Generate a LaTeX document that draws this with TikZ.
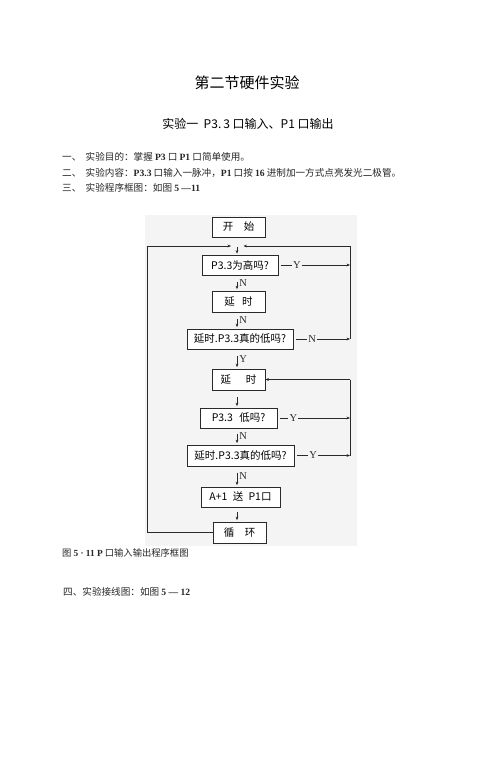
\documentclass[tikz,border=0pt]{standalone}
\usepackage{fontspec}
\setmainfont{Liberation Serif}
\newfontfamily\cjkf{Noto Sans CJK SC}
\newfontfamily\lser{Liberation Serif}
\usetikzlibrary{arrows.meta}
\definecolor{bgc}{HTML}{F4F4F4}
\definecolor{lnc}{HTML}{2A2A2A}
\newcommand{\lb}[1]{{\lser\bfseries #1}}
\tikzset{
  box/.style={draw=lnc, line width=0.7pt, fill=white, minimum height=20pt, inner sep=0pt, font=\cjkf\fontsize{10.5}{12}\selectfont},
  arr/.style={draw=lnc, -{Stealth[length=3.5pt,width=2.8pt]}, line width=0.55pt},
  ln/.style={draw=lnc, line width=0.55pt},
  lab/.style={font=\lser\fontsize{10.5}{12}\selectfont, fill=bgc, inner sep=1.2pt, text=lnc},
  dlab/.style={font=\lser\fontsize{10.5}{12}\selectfont, anchor=west, inner sep=0pt, xshift=2pt, text=lnc},
  body/.style={anchor=west, inner sep=0pt, font=\cjkf\fontsize{9.6}{11}\selectfont, text=black!85},
}
\begin{document}
\begin{tikzpicture}[x=1pt,y=-1pt]
\useasboundingbox (0,0) rectangle (496,757);
\fill[bgc] (145,215) rectangle (357,546);

% headings
\node[font=\cjkf\fontsize{15}{18}\selectfont] (title) at (247,83) {第二节硬件实验};
\node[font=\cjkf\fontsize{12}{14}\selectfont] (sub) at (248,124) {实验一\ \ P3.\,3 口输入、P1 口输出};

\node[body] (l1) at (62,157) {一、\ \ 实验目的：掌握 \lb{P3} 口 \lb{P1} 口简单使用。};
\node[body] (l2) at (62,172.5) {二、\ \ 实验内容：\lb{P3.3} 口输入一脉冲，\lb{P1} 口按 \lb{16} 进制加一方式点亮发光二极管。};
\node[body] (l3) at (62,188) {三、\ \ 实验程序框图：如图 \lb{5 —11}};

% flowchart
\coordinate (ax) at (237,0);
\coordinate (lx) at (147,0);
\coordinate (r1) at (350,246);
\coordinate (jl) at (231,246);
\coordinate (jr) at (243.5,246);
\coordinate (r2) at (350,379.5);

\node[box, minimum width=53pt] (start) at (238.5,227) {开\hspace{1em}始};
\node[box, minimum width=76pt] (q1) at (240,265) {P3.3为高吗?};
\node[box, minimum width=53pt, minimum height=21pt] (d1) at (238.5,301.5) {延\hspace{0.7em}时};
\node[box, minimum width=106pt] (q2) at (240,339) {延时.P3.3真的低吗?};
\node[box, minimum width=53pt, minimum height=21pt] (d2) at (238.5,379.5) {延\hspace{1.4em}时};
\node[box, minimum width=77pt] (q3) at (238.5,418) {P3.3\hspace{0.6em}低吗?};
\node[box, minimum width=107pt, minimum height=21pt] (q4) at (240.5,455.5) {延时.P3.3真的低吗?};
\node[box, minimum width=79pt] (a1) at (240.5,497) {A+1\hspace{0.5em}送\hspace{0.5em}P1口};
\node[box, minimum width=53pt, minimum height=21pt] (loop) at (239.5,532.5) {循\hspace{1em}环};

% down arrows
\draw[arr, shorten <=10pt, shorten >=1pt] (start.south -| ax) -- (q1.north -| ax);
\draw[arr, shorten <=7pt, shorten >=1.5pt] (q1.south -| ax) -- node[dlab] {N} (d1.north -| ax);
\draw[arr, shorten <=7pt, shorten >=1.5pt] (d1.south -| ax) -- node[dlab] {N} (q2.north -| ax);
\draw[arr, shorten <=7pt, shorten >=1.5pt] (q2.south -| ax) -- node[dlab] {Y} (d2.north -| ax);
\draw[arr, shorten <=7pt, shorten >=1.5pt] (d2.south -| ax) -- (q3.north -| ax);
\draw[arr, shorten <=6pt, shorten >=1.5pt] (q3.south -| ax) -- node[dlab] {N} (q4.north -| ax);
\draw[arr, shorten <=7pt, shorten >=1.5pt] (q4.south -| ax) -- node[dlab] {N} (a1.north -| ax);
\draw[arr, shorten <=5pt, shorten >=1.5pt] (a1.south -| ax) -- (loop.north -| ax);

% left return loop
\draw[arr] (loop.west) -- (lx |- loop.west) -- (lx |- jl) -- (jl);
% upper right loop
\draw[ln] (r1 |- q2.east) -- (r1);
\draw[arr] (r1) -- (jr);
\draw[arr, shorten <=3pt] (q1.east) -- (q1.east -| r1) node[lab, pos=0.26] {Y};
\draw[arr, shorten <=3pt] (q2.east) -- (q2.east -| r1) node[lab, pos=0.33] {N};
% lower right loop
\draw[ln] (r2 |- q4.east) -- (r2);
\draw[arr] (r2) -- (d2.east);
\draw[arr, shorten <=3pt] (q3.east) -- (q3.east -| r2) node[lab, pos=0.22] {Y};
\draw[arr, shorten <=3pt] (q4.east) -- (q4.east -| r2) node[lab, pos=0.34] {Y};

% captions
\node[body, font=\cjkf\fontsize{9.3}{11}\selectfont] (cap) at (62,553) {图 \lb{5 · 11 P} 口输入输出程序框图};
\node[body] (l4) at (63,592) {四、实验接线图：如图 \lb{5 — 12}};
\end{tikzpicture}
\end{document}
